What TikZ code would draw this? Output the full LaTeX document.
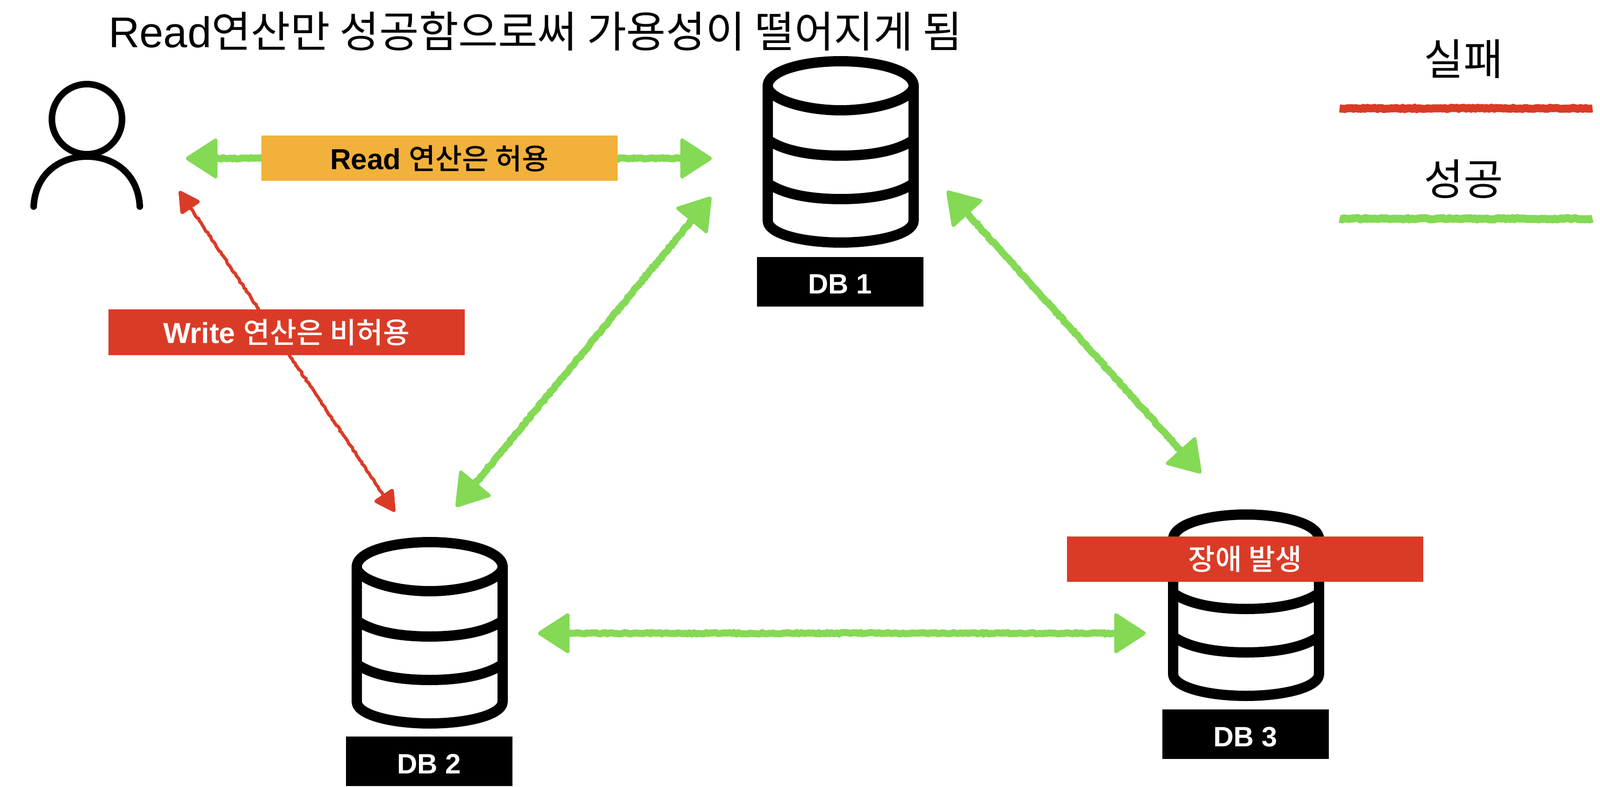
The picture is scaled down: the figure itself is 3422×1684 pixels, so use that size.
\documentclass[tikz,border=0pt]{standalone}
\usepackage{fontspec}
\setmainfont{Liberation Sans}
\newfontfamily\kr{Noto Sans CJK KR}
\newfontfamily\krm{Noto Sans CJK KR Medium}
\usetikzlibrary{calc,decorations.pathmorphing}
\definecolor{okgreen}{HTML}{84D955}
\definecolor{failred}{HTML}{DA3B26}
\definecolor{amberbox}{HTML}{F2B13B}
\newcommand{\crayonhead}[5]{%
  \coordinate (hb) at ($(#1)!#3!(#2)$);
  \fill[#5,rounded corners=4pt] ($(#1)!-1.5pt!(#2)$) -- ($(hb)!#4!90:(#1)$) -- ($(hb)!#4!-90:(#1)$) -- cycle;}
\newcommand{\glink}[2]{%
  \draw[okgreen,gshaft] ($(#1)!20pt!(#2)$) -- ($(#2)!20pt!(#1)$);
  \crayonhead{#1}{#2}{34pt}{23pt}{okgreen}
  \crayonhead{#2}{#1}{34pt}{23pt}{okgreen}}
\newcommand{\rlink}[2]{%
  \draw[failred,rshaft] ($(#1)!12pt!(#2)$) -- ($(#2)!12pt!(#1)$);
  \crayonhead{#1}{#2}{23pt}{13.5pt}{failred}
  \crayonhead{#2}{#1}{23pt}{13.5pt}{failred}}
\tikzset{
  x=0.5pt,y=-0.5pt,
  rough/.style={decorate,decoration={random steps,segment length=2.5pt,amplitude=0.7pt}},
  gshaft/.style={line width=7.5pt,rough},
  rshaft/.style={line width=3.5pt,rough},
  legendline/.style={line width=8.5pt,rough},
  lblbox/.style={inner sep=0pt,minimum width=381pt,minimum height=48.5pt,font=\fontsize{31}{34}\selectfont\bfseries},
  dbbox/.style={fill=black,text=white,inner sep=0pt,minimum width=178pt,minimum height=53pt,text height=26pt,text depth=0pt,font=\fontsize{30}{34}\selectfont\bfseries},
  bigtext/.style={inner sep=0pt,font=\fontsize{46}{50}\selectfont},
  iconline/.style={black,line width=11pt,line join=round},
  dbicon/.pic={
    \draw[iconline] (-156,63) .. controls (-156,30) and (-80,10) .. (0,10) .. controls (80,10) and (156,30) .. (156,63)
       .. controls (156,90) and (80,115) .. (0,115) .. controls (-80,115) and (-156,90) .. (-156,63) -- cycle;
    \draw[iconline] (-156,63) -- (-156,351) .. controls (-156,380) and (-80,398) .. (0,398) .. controls (80,398) and (156,380) .. (156,351) -- (156,63);
    \draw[iconline] (-156,178) .. controls (-125,200) and (-70,212) .. (0,212) .. controls (70,212) and (125,200) .. (156,178);
    \draw[iconline] (-156,271) .. controls (-125,293) and (-70,305) .. (0,305) .. controls (70,305) and (125,293) .. (156,271);
  }
}
\begin{document}
\begin{tikzpicture}
\useasboundingbox (0,0) rectangle (3422,1684);
% title
\node[bigtext,anchor=base west] (title) at (232,102) {Read{\kr 연산만 성공함으로써 가용성이 떨어지게 됨}};
% user
\draw[black,line width=7pt] (186,255) circle[radius=37.5pt];
\draw[black,line width=7pt,line cap=round] (72,442) .. controls (75,375) and (125,335) .. (186,335) .. controls (247,335) and (296,375) .. (299,442);
% DB icons
\pic at (1798,121) {dbicon};
\pic at (919,1150) {dbicon};
\pic at (2665,1091) {dbicon};
% DB captions
\node[dbbox] (db1) at (1797,603) {DB 1};
\node[dbbox] (db2) at (918,1629) {DB 2};
\node[dbbox] (db3) at (2664,1571) {DB 3};
% connector ends
\coordinate (userR) at (397,339);
\coordinate (db1L) at (1523,339);
\coordinate (userW) at (383,408);
\coordinate (db2W) at (845,1096);
\coordinate (db1S) at (1521,421);
\coordinate (db2N) at (975,1085);
\coordinate (db1E) at (2025,408);
\coordinate (db3N) at (2569,1013);
\coordinate (db2E) at (1150,1355);
\coordinate (db3W) at (2451,1355);
% connectors
\glink{userR}{db1L}
\rlink{userW}{db2W}
\glink{db1S}{db2N}
\glink{db1E}{db3N}
\glink{db2E}{db3W}
% labels
\node[lblbox,fill=amberbox,text=black] (readlbl) at (940,339) {Read {\mdseries\krm 연산은 허용}};
\node[lblbox,fill=failred,text=white] (writelbl) at (613,711) {Write {\mdseries\krm 연산은 비허용}};
\node[lblbox,fill=failred,text=white] (faillbl) at (2663,1196) {\mdseries\krm 장애 발생};
% legend
\node[bigtext] (legfail) at (3130,126) {\kr 실패};
\node[bigtext] (legok) at (3130,383) {\kr 성공};
\coordinate (lr1) at (2865,232);
\coordinate (lr2) at (3406,232);
\coordinate (lg1) at (2865,468);
\coordinate (lg2) at (3406,468);
\draw[legendline,failred] (lr1) -- (lr2);
\draw[legendline,okgreen] (lg1) -- (lg2);
\end{tikzpicture}
\end{document}
